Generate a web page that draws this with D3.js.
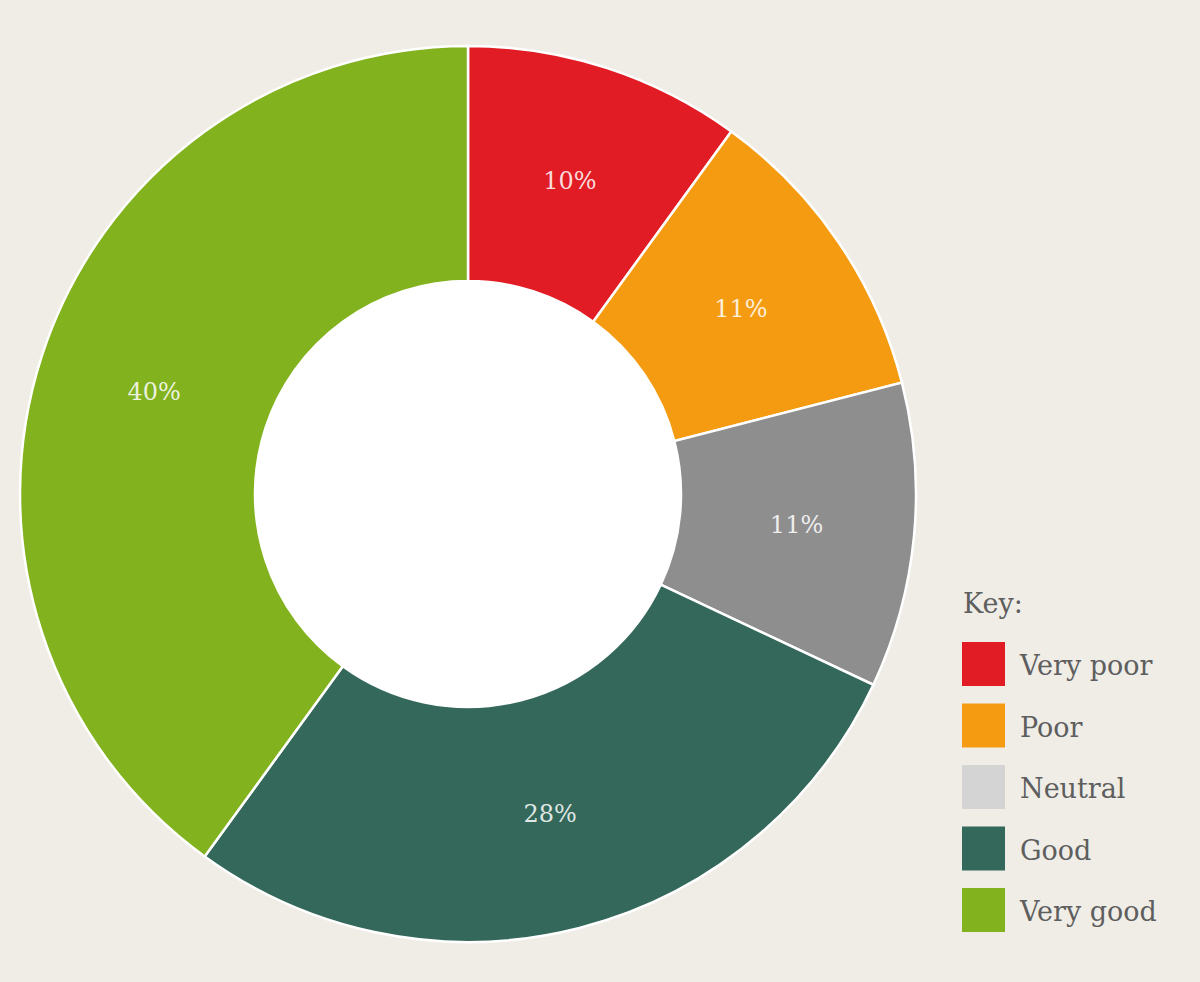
<html>
<head>
  <script src="https://d3js.org/d3.v7.min.js"></script>
  <style>
    body { margin: 0; background: #efede6; }
    .slice-label { font-family: "DejaVu Serif", serif; font-size: 24px; fill: #fff; fill-opacity: 0.85; }
    .key-text { font-family: "DejaVu Serif", serif; font-size: 27px; fill: #5e5e5e; }
  </style>
</head>
<body>
  <svg id="donut" width="1200" height="982"></svg>
  <script>
    // slices, clockwise from 12 o'clock
    const categories = ["Very poor", "Poor", "Neutral", "Good", "Very good"];
    const values = [10, 11, 11, 28, 40];
    const sliceColors = ["#e21c24", "#f59b12", "#8f8e8e", "#33685a", "#83b21f"];
    const keyColors = ["#e21c24", "#f59b12", "#d4d4d4", "#33685a", "#83b21f"];

    const svg = d3.select("svg#donut");
    const cx = 468, cy = 494;
    const outerR = 448, innerR = 213;

    const data = categories.map((c, i) => ({ name: c, value: values[i], color: sliceColors[i], key: keyColors[i] }));

    const pie = d3.pie().sort(null).value(d => d.value);
    const arc = d3.arc().innerRadius(innerR).outerRadius(outerR);
    const labelArc = d3.arc().innerRadius(330).outerRadius(330);

    const g = svg.append("g").attr("transform", "translate(" + cx + "," + cy + ")");

    const arcs = pie(data);

    g.append("circle").attr("r", innerR).attr("fill", "#fff");

    g.selectAll("path.slice")
      .data(arcs)
      .join("path")
      .attr("class", "slice")
      .attr("d", arc)
      .attr("fill", d => d.data.color)
      .attr("stroke", "#fff")
      .attr("stroke-width", 2.5);

    g.selectAll("text.slice-label")
      .data(arcs)
      .join("text")
      .attr("class", "slice-label")
      .attr("transform", d => "translate(" + labelArc.centroid(d) + ")")
      .attr("text-anchor", "middle")
      .attr("dy", "0.35em")
      .text(d => d.data.value + "%");

    // key
    const key = svg.append("g").attr("transform", "translate(962,0)");
    key.append("text").attr("class", "key-text").attr("x", 1).attr("y", 613).text("Key:");

    const keyY = d3.scalePoint().domain(categories).range([642, 888]);

    const rows = key.selectAll("g.row")
      .data(data)
      .join("g")
      .attr("class", "row")
      .attr("transform", d => "translate(0," + keyY(d.name) + ")");

    rows.append("rect").attr("width", 43).attr("height", 44).attr("fill", d => d.key);
    rows.append("text").attr("class", "key-text").attr("x", 58).attr("y", 33).text(d => d.name);
  </script>
</body>
</html>
